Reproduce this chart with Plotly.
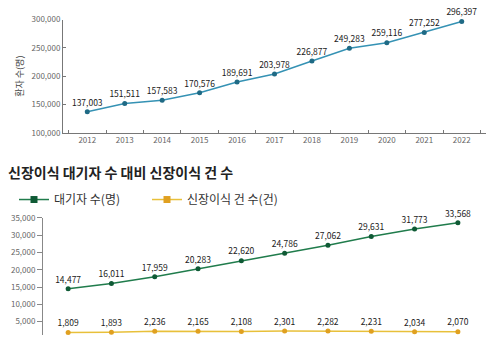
import plotly.graph_objects as go

years = ["2012", "2013", "2014", "2015", "2016", "2017", "2018", "2019", "2020", "2021", "2022"]
patients = [137003, 151511, 157583, 170576, 189691, 203978, 226877, 249283, 259116, 277252, 296397]
years2 = ["2013", "2014", "2015", "2016", "2017", "2018", "2019", "2020", "2021", "2022"]
waiting = [14477, 16011, 17959, 20283, 22620, 24786, 27062, 29631, 31773, 33568]
transplants = [1809, 1893, 2236, 2165, 2108, 2301, 2282, 2231, 2034, 2070]

title_text = "신장이식 대기자 수 대비 신장이식 건 수"
ytitle_top = "환자 수(명)"
legend_names = ["대기자 수(명)", "신장이식 건 수(건)"]

FONT = "Noto Sans CJK KR"
W, H = 500, 340

def fmt(v):
    return f"{v:,}"

labelfont = dict(family=FONT, size=8.5, color="#1a1a1a")

fig = go.Figure()

fig.add_trace(go.Scatter(
    x=years, y=patients, mode="lines+markers+text",
    text=[fmt(v) for v in patients], textposition="top center",
    textfont=labelfont,
    line=dict(color="#3592b4", width=1.5),
    marker=dict(color="#1f6a85", size=5),
    xaxis="x", yaxis="y", showlegend=False, cliponaxis=False))

fig.add_trace(go.Scatter(
    x=years2, y=waiting, mode="lines+markers+text",
    text=[fmt(v) for v in waiting], textposition="top center",
    textfont=labelfont,
    line=dict(color="#207c4c", width=1.5),
    marker=dict(color="#0f5a35", size=5),
    xaxis="x2", yaxis="y2", showlegend=False, cliponaxis=False))
fig.add_trace(go.Scatter(
    x=years2, y=transplants, mode="lines+markers+text",
    text=[fmt(v) for v in transplants], textposition="top center",
    textfont=labelfont,
    line=dict(color="#e8c03a", width=1.5),
    marker=dict(color="#e0a020", size=5),
    xaxis="x2", yaxis="y2", showlegend=False, cliponaxis=False))

# legend-only entries
fig.add_trace(go.Scatter(x=[None], y=[None], mode="lines+markers", name=legend_names[0],
                         line=dict(color="#207c4c", width=1.5),
                         marker=dict(color="#0f5a35", size=7, symbol="square"),
                         xaxis="x2", yaxis="y2"))
fig.add_trace(go.Scatter(x=[None], y=[None], mode="lines+markers", name=legend_names[1],
                         line=dict(color="#e8c03a", width=1.5),
                         marker=dict(color="#e0a020", size=7, symbol="square"),
                         xaxis="x2", yaxis="y2"))

tickfont = dict(family=FONT, size=8, color="#666")

fig.update_layout(
    width=W, height=H, margin=dict(l=0, r=0, t=0, b=0),
    paper_bgcolor="white", plot_bgcolor="white",
    font=dict(family=FONT, color="#333"),
    xaxis=dict(domain=[63 / W, 486 / W], anchor="y", type="category",
               categoryorder="array", categoryarray=years,
               showline=True, linecolor="#777", linewidth=1,
               ticks="inside", tickson="boundaries", ticklen=3, tickcolor="#777",
               tickfont=tickfont, showgrid=False, zeroline=False),
    yaxis=dict(domain=[1 - 131 / H, 1 - 14 / H], anchor="x", range=[100000, 300000],
               dtick=50000, tickformat=",", showline=True, linecolor="#777", linewidth=1,
               ticks="inside", ticklen=3, tickcolor="#777", tickfont=tickfont,
               showgrid=False, zeroline=False,
               title=dict(text=ytitle_top, font=dict(family=FONT, size=9, color="#444"), standoff=6)),
    xaxis2=dict(domain=[43 / W, 483 / W], anchor="y2", type="category",
                categoryorder="array", categoryarray=years2,
                showline=False, showticklabels=False, ticks="", showgrid=False, zeroline=False),
    yaxis2=dict(domain=[0, 1 - 219 / H], anchor="x2", range=[1117, 35000],
                tick0=0, dtick=5000, tickformat=",", showline=True, linecolor="#888", linewidth=1,
                ticks="outside", ticklen=5, tickcolor="#888", tickfont=tickfont,
                showgrid=False, zeroline=False),
    legend=dict(orientation="h", x=14 / W, y=1 - 200 / H, xanchor="left", yanchor="middle",
                entrywidth=88, entrywidthmode="pixels",
                font=dict(family=FONT, size=12, color="#333"), bgcolor="rgba(0,0,0,0)",
                itemwidth=30, tracegroupgap=0),
    annotations=[dict(text=f"<b>{title_text}</b>", x=6 / W, y=1 - 172 / H, xref="paper", yref="paper",
                      xanchor="left", yanchor="middle", showarrow=False,
                      font=dict(family=FONT, size=14, color="#222"))],
)

fig.write_html("out.html")
